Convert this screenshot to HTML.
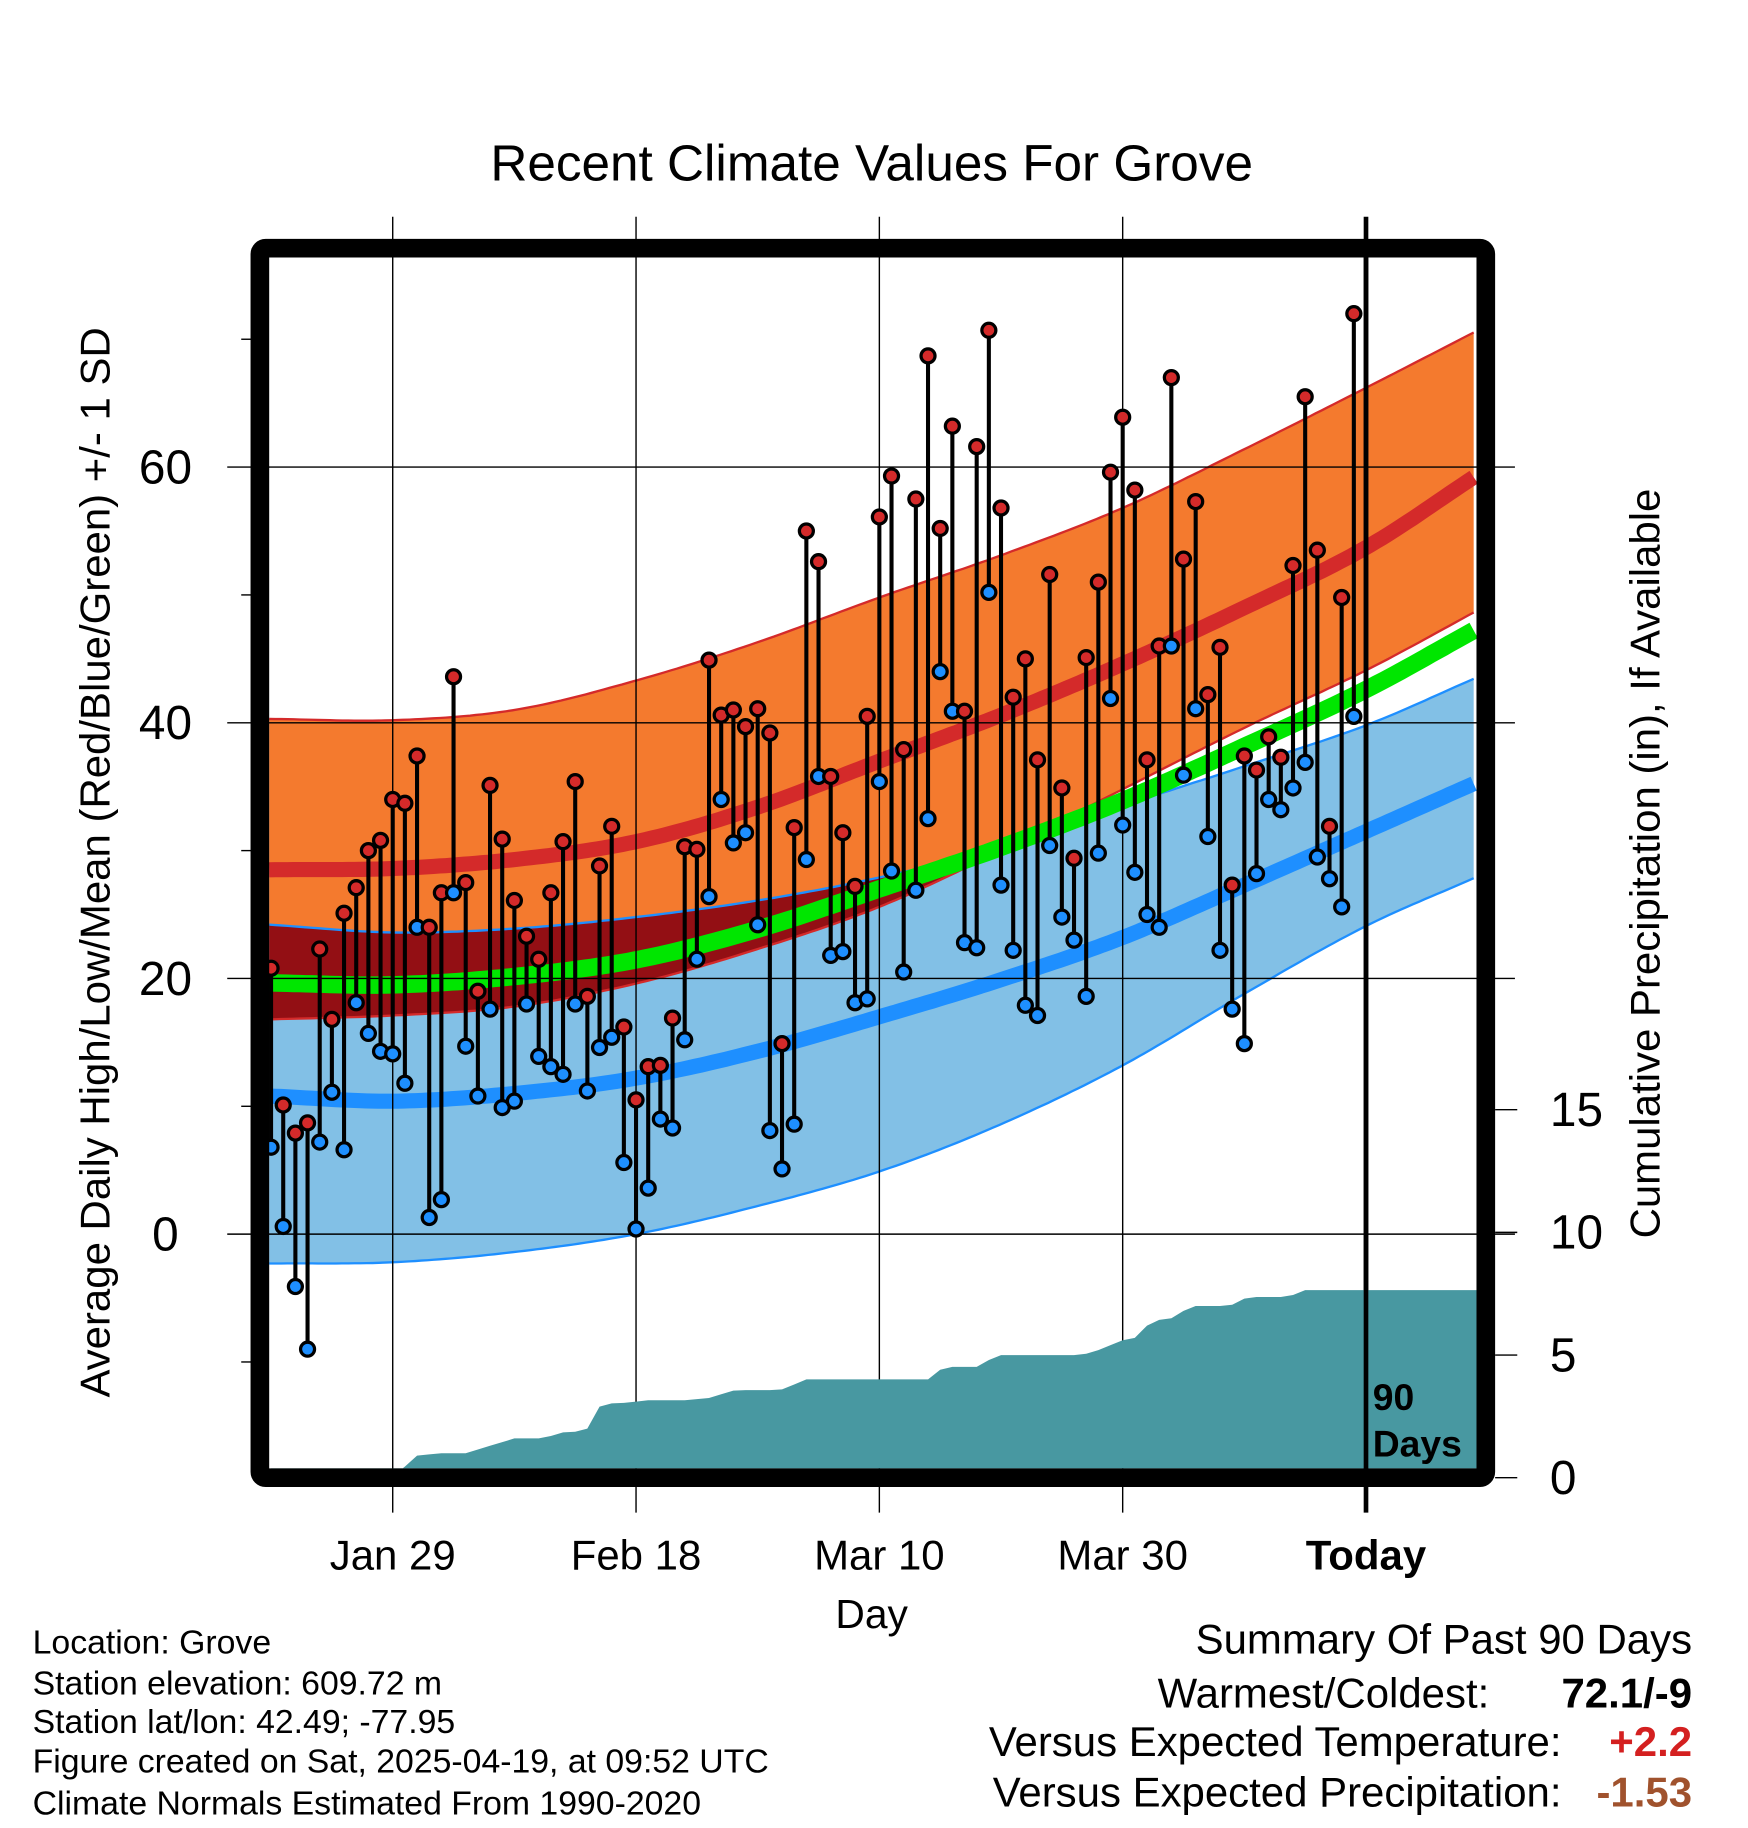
<!DOCTYPE html>
<html><head><meta charset="utf-8"><style>
html,body{margin:0;padding:0;background:#fff;}
svg{display:block;}
text{font-family:"Liberation Sans",Arial,sans-serif;}
</style></head><body>
<svg id="chart" width="1748" height="1828" viewBox="0 0 1500 1568.6" preserveAspectRatio="none" xmlns="http://www.w3.org/2000/svg">
<text x="748" y="155" font-size="44" text-anchor="middle">Recent Climate Values For Grove</text>
<g id="bands"></g>
<g id="grid"></g>
<g id="precip"></g>
<g id="marks"></g>
<rect x="223" y="213" width="1052" height="1055" fill="none" stroke="#000" stroke-width="16" rx="5"/>
<g id="axes"></g>
<text x="1178" y="1210" font-size="32" font-weight="bold">90</text>
<text x="1178" y="1250" font-size="32" font-weight="bold">Days</text>
<text transform="translate(94,740) rotate(-90)" font-size="36" text-anchor="middle">Average Daily High/Low/Mean (Red/Blue/Green) +/- 1 SD</text>
<text transform="translate(1424,741) rotate(-90)" font-size="36" text-anchor="middle">Cumulative Precipitation (in), If Available</text>
<text x="748" y="1397" font-size="35" text-anchor="middle">Day</text>
<g font-size="29">
<text x="28" y="1419">Location: Grove</text>
<text x="28" y="1454">Station elevation: 609.72 m</text>
<text x="28" y="1487">Station lat/lon: 42.49; -77.95</text>
<text x="28" y="1521">Figure created on Sat, 2025-04-19, at 09:52 UTC</text>
<text x="28" y="1557">Climate Normals Estimated From 1990-2020</text>
</g>
<g font-size="36">
<text x="1452" y="1419" text-anchor="end">Summary Of Past 90 Days</text>
<text x="1278" y="1465" text-anchor="end">Warmest/Coldest:</text>
<text x="1452" y="1465" text-anchor="end" font-weight="bold">72.1/-9</text>
<text x="1340" y="1507" text-anchor="end">Versus Expected Temperature:</text>
<text x="1452" y="1507" text-anchor="end" font-weight="bold" fill="#d42020">+2.2</text>
<text x="1340" y="1550" text-anchor="end">Versus Expected Precipitation:</text>
<text x="1452" y="1550" text-anchor="end" font-weight="bold" fill="#a0522d">-1.53</text>
</g>
</svg>
<script>
const highs=[20.8,10.1,7.9,8.7,22.3,16.8,25.1,27.1,30.0,30.8,34.0,33.7,37.4,24.0,26.7,43.6,27.5,19.0,35.1,30.9,26.1,23.3,21.5,26.7,30.7,35.4,18.6,28.8,31.9,16.2,10.5,13.1,13.2,16.9,30.3,30.1,44.9,40.6,41.0,39.7,41.1,39.2,14.9,31.8,55.0,52.6,35.8,31.4,27.2,40.5,56.1,59.3,37.9,57.5,68.7,55.2,63.2,40.9,61.6,70.7,56.8,42.0,45.0,37.1,51.6,34.9,29.4,45.1,51.0,59.6,63.9,58.2,37.1,46.0,67.0,52.8,57.3,42.2,45.9,27.3,37.4,36.3,38.9,37.3,52.3,65.5,53.5,31.9,49.8,72.0];
const lows=[6.8,0.6,-4.1,-9.0,7.2,11.1,6.6,18.1,15.7,14.3,14.1,11.8,24.0,1.3,2.7,26.7,14.7,10.8,17.6,9.9,10.4,18.0,13.9,13.1,12.5,18.0,11.2,14.6,15.4,5.6,0.4,3.6,9.0,8.3,15.2,21.5,26.4,34.0,30.6,31.4,24.2,8.1,5.1,8.6,29.3,35.8,21.8,22.1,18.1,18.4,35.4,28.4,20.5,26.9,32.5,44.0,40.9,22.8,22.4,50.2,27.3,22.2,17.9,17.1,30.4,24.8,23.0,18.6,29.8,41.9,32.0,28.3,25.0,24.0,46.0,35.9,41.1,31.1,22.2,17.6,14.9,28.2,34.0,33.2,34.9,36.9,29.5,27.8,25.6,40.5];
const precip=[0,0,0,0,0,0,0,0,0,0,0.05,0.45,0.9,0.95,1.0,1.0,1.0,1.15,1.3,1.45,1.6,1.6,1.6,1.7,1.85,1.87,2.0,2.9,3.03,3.05,3.1,3.16,3.16,3.16,3.16,3.2,3.25,3.4,3.55,3.57,3.57,3.57,3.6,3.8,4.01,4.01,4.01,4.01,4.01,4.01,4.01,4.01,4.01,4.01,4.01,4.4,4.52,4.52,4.52,4.8,5.0,5.0,5.0,5.0,5.0,5.0,5.0,5.05,5.2,5.4,5.6,5.7,6.2,6.43,6.5,6.8,7.0,7.0,7.0,7.05,7.3,7.37,7.37,7.37,7.45,7.65,7.65,7.65,7.65,7.65];
const normDays=[0,10,20,30,40,50,60,70,80,90,99];
const highMean=[28.5,28.6,29.3,30.7,33.4,37.0,40.6,44.6,49.0,53.7,59.3];
const highUpper=[40.3,40.2,41.0,43.3,46.3,49.8,53.1,56.8,61.4,66.2,70.6];
const highLower=[16.8,17.1,17.8,19.6,22.3,25.6,30.0,34.8,39.6,44.1,48.7];
const lowMean=[10.8,10.4,11.0,12.2,14.3,17.0,19.9,23.2,27.3,31.5,35.3];
const lowUpper=[24.2,23.6,23.9,24.8,26.1,27.9,30.3,33.5,36.6,39.8,43.5];
const lowLower=[-2.3,-2.2,-1.4,0.0,2.2,4.9,8.6,13.2,18.8,24.1,27.9];
const xTickDays=[10,30,50,70,90];
const xTickLabels=["Jan 29","Feb 18","Mar 10","Mar 30","Today"];
const yTicks=[0,20,40,60];
const yMinor=[-10,10,30,50,70];
const y2Ticks=[0,5,10,15];

const NS="http://www.w3.org/2000/svg";
const X0=337,DX=10.44,LEFT=231,RIGHT=1267,TOP=221,BOT=1260;
function x(d){return X0+(d-10)*DX;}
function y(t){return 1059-t*10.97;}
function yp(p){return 1268-p*21.05;}
function mk(tag,attrs,parent){const e=document.createElementNS(NS,tag);for(const k in attrs)e.setAttribute(k,attrs[k]);parent.appendChild(e);return e;}
function interp(arr,d){
  const n=normDays.length;let i=0;
  while(i<n-2&&d>normDays[i+1])i++;
  const x0=normDays[i],x1=normDays[i+1],h=x1-x0,t=(d-x0)/h;
  const slope=(j)=>{if(j===0)return (arr[1]-arr[0])/(normDays[1]-normDays[0]);if(j===n-1)return (arr[n-1]-arr[n-2])/(normDays[n-1]-normDays[n-2]);return (arr[j+1]-arr[j-1])/(normDays[j+1]-normDays[j-1]);};
  const m0=slope(i)*h,m1=slope(i+1)*h,t2=t*t,t3=t2*t;
  return (2*t3-3*t2+1)*arr[i]+(t3-2*t2+t)*m0+(-2*t3+3*t2)*arr[i+1]+(t3-t2)*m1;
}
const dEnd=(RIGHT-X0)/DX+10;
const samples=[];for(let d=(LEFT-X0)/DX+10;d<=dEnd+0.001;d+=0.5)samples.push(d);
function linePts(f){return samples.map(d=>x(d).toFixed(1)+","+y(f(d)).toFixed(1));}
function bandPath(fu,fl){const a=linePts(fu),b=linePts(fl).reverse();return "M"+a.join("L")+"L"+b.join("L")+"Z";}
const bands=document.getElementById('bands');
let e;
e=mk('path',{d:bandPath(d=>interp(highUpper,d),d=>interp(highLower,d)),fill:'#f47a2e'},bands);


e=mk('path',{d:bandPath(d=>interp(lowUpper,d),d=>interp(lowLower,d)),fill:'#82c0e6'},bands);


e=mk('path',{d:bandPath(d=>interp(lowUpper,d),d=>Math.min(interp(highLower,d),interp(lowUpper,d))),fill:'#930f14'},bands);


[[highUpper,'#d42a2a',2,'high-upper-edge'],[highLower,'#d42a2a',2,'high-lower-edge'],[lowUpper,'#1e8fff',2,'low-upper-edge'],[lowLower,'#1e8fff',2,'low-lower-edge'],[highMean,'#d42a2a',13,'high-mean-line'],[lowMean,'#1e8fff',13,'low-mean-line']].forEach(([arr,c,w,n])=>{
  const l=mk('polyline',{points:linePts(d=>interp(arr,d)).join(' '),fill:'none',stroke:c,'stroke-width':w},bands);
  
  
});
e=mk('polyline',{points:linePts(d=>(interp(highMean,d)+interp(lowMean,d))/2).join(' '),fill:'none',stroke:'#00e600','stroke-width':15},bands);



const grid=document.getElementById('grid');
yTicks.forEach(t=>{
  const l=mk('line',{x1:195,x2:1300,y1:y(t),y2:y(t),stroke:'#000','stroke-width':1.2},grid);
  
  
});
xTickDays.forEach((d,i)=>{
  const l=mk('line',{x1:x(d),x2:x(d),y1:186,y2:1298,stroke:'#000','stroke-width':i===4?4:1.2},grid);
  
  
});

const pg=document.getElementById('precip');
let pd="M"+x(0)+","+yp(0);
precip.forEach((p,i)=>{pd+="L"+x(i).toFixed(1)+","+yp(p).toFixed(1);});
pd+="L"+RIGHT+","+yp(precip[precip.length-1]).toFixed(1)+"L"+RIGHT+","+BOT+"L"+x(0)+","+BOT+"Z";
e=mk('path',{d:pd,fill:'#4898a1'},pg);



const marks=document.getElementById('marks');
highs.forEach((h,i)=>{
  const s=mk('line',{x1:x(i),x2:x(i),y1:y(h),y2:y(lows[i]),stroke:'#000','stroke-width':3.5},marks);
  
  
});
highs.forEach((h,i)=>{
  const c=mk('circle',{cx:x(i),cy:y(h),r:6,fill:'#d42a2a',stroke:'#000','stroke-width':2.8},marks);
  
  
  const c2=mk('circle',{cx:x(i),cy:y(lows[i]),r:6,fill:'#1e8fff',stroke:'#000','stroke-width':2.8},marks);
  
  
});
e=mk('line',{x1:x(90),x2:x(90),y1:215,y2:1268,stroke:'#000','stroke-width':4},marks);



const axes=document.getElementById('axes');
yTicks.forEach(t=>{
  const tx=mk('text',{x:142,y:y(t)+14,'font-size':41,'text-anchor':'middle'},axes);
  tx.textContent=t;
  
  
});
yMinor.forEach(t=>{
  const l=mk('line',{x1:207,x2:216,y1:y(t),y2:y(t),stroke:'#000','stroke-width':1.2},axes);
  
  
});
y2Ticks.forEach(p=>{
  const l=mk('line',{x1:1283,x2:1302,y1:yp(p),y2:yp(p),stroke:'#000','stroke-width':1.2},axes);
  
  
  const tx=mk('text',{x:1330,y:yp(p)+14,'font-size':41},axes);
  tx.textContent=p;
  
  
});
xTickDays.forEach((d,i)=>{
  const tx=mk('text',{x:x(d),y:1347,'font-size':36,'text-anchor':'middle','font-weight':i===4?'bold':'normal'},axes);
  tx.textContent=xTickLabels[i];
  
  
});
</script>
</body></html>
